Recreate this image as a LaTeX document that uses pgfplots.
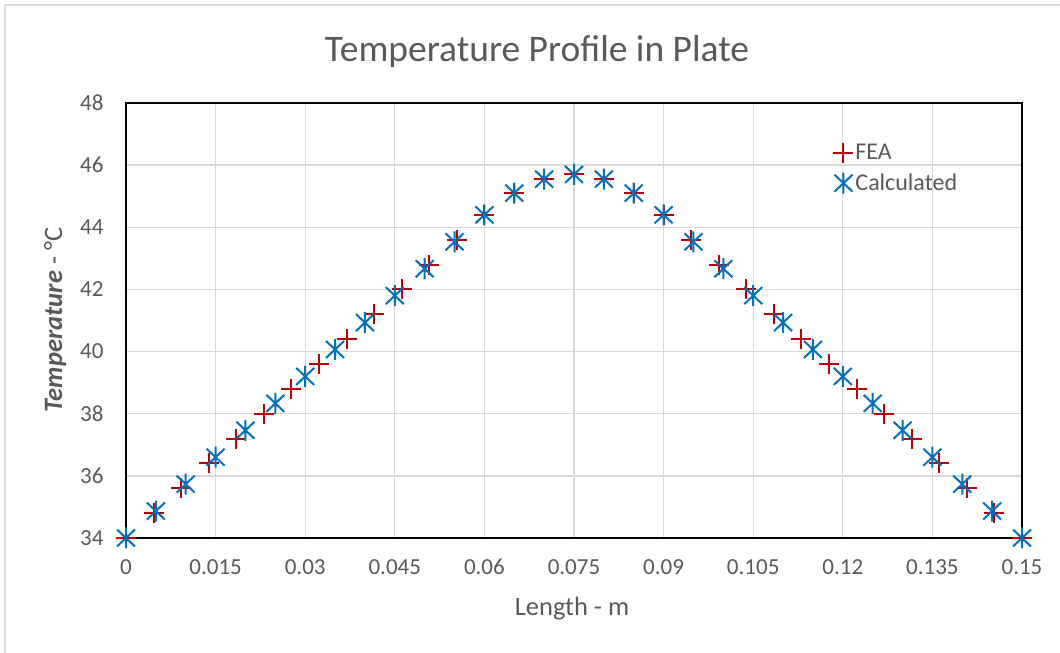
\documentclass[border=0pt]{standalone}
\usepackage{pgfplots}
\pgfplotsset{compat=1.18}
\usepackage{fontspec}
\setmainfont{Carlito}
\definecolor{txt}{HTML}{595959}
\definecolor{gridc}{HTML}{D9D9D9}
\definecolor{fear}{HTML}{C00000}
\definecolor{calb}{HTML}{0070C0}
\pgfdeclareplotmark{xstar}{%
  \pgfpathmoveto{\pgfqpoint{-0.9\pgfplotmarksize}{-0.85\pgfplotmarksize}}%
  \pgfpathlineto{\pgfqpoint{0.9\pgfplotmarksize}{0.85\pgfplotmarksize}}%
  \pgfpathmoveto{\pgfqpoint{-0.9\pgfplotmarksize}{0.85\pgfplotmarksize}}%
  \pgfpathlineto{\pgfqpoint{0.9\pgfplotmarksize}{-0.85\pgfplotmarksize}}%
  \pgfpathmoveto{\pgfqpoint{0pt}{-1.05\pgfplotmarksize}}%
  \pgfpathlineto{\pgfqpoint{0pt}{1.05\pgfplotmarksize}}%
  \pgfusepathqstroke}
\begin{document}
\begin{tikzpicture}
\useasboundingbox (0pt,0pt) rectangle (1060pt,653pt);
\draw[gridc, line width=2pt] (5pt,0pt) -- (5pt,648pt) -- (1060pt,648pt);
\node[anchor=base, text=txt, font=\fontsize{37.5}{44}\selectfont] at (537pt,591pt) {Temperature Profile in Plate};
\node[anchor=base, text=txt, font=\fontsize{26.5}{30}\selectfont] at (572pt,37pt) {Length - m};
\node[anchor=base, rotate=90, text=txt, font=\fontsize{26.5}{30}\selectfont] at (62pt,333pt) {\textbf{\textit{Temperature}} - °C};
\begin{axis}[
  at={(126pt,115pt)}, anchor=south west,
  scale only axis, width=896pt, height=435pt,
  xmin=0, xmax=0.15, ymin=34, ymax=48,
  xtick={0,0.015,0.03,0.045,0.06,0.075,0.09,0.105,0.12,0.135,0.15},
  xticklabels={0,0.015,0.03,0.045,0.06,0.075,0.09,0.105,0.12,0.135,0.15},
  ytick={34,36,...,48},
  /pgf/number format/assume math mode=true,
  tick label style={text=txt, font=\fontsize{23}{27}\selectfont},
  xticklabel style={anchor=base, yshift=-37pt},
  yticklabel style={xshift=-19pt},
  major tick length=0pt,
  grid=major,
  major grid style={gridc, line width=1.3pt},
  axis line style={black, line width=1.8pt},
  legend style={at={(0.786,0.915)}, anchor=north west, draw=none, fill=none,
    font=\fontsize{24}{28}\selectfont, text=txt, row sep=9pt,
    /tikz/every even column/.append style={column sep=4pt}},
  legend cell align=left,
]
\addplot[only marks, mark=+, mark size=10pt, color=fear, line width=2pt] coordinates {
(0,34) (0.004615,34.8) (0.009231,35.6) (0.013846,36.4) (0.018462,37.2) (0.023077,38.0)
(0.027692,38.8) (0.032308,39.6) (0.036923,40.4) (0.041538,41.2) (0.046154,42.0)
(0.050769,42.8) (0.055385,43.6) (0.06,44.4) (0.065,45.1) (0.07,45.55) (0.075,45.7)
(0.08,45.55) (0.085,45.1) (0.09,44.4) (0.094615,43.6) (0.099231,42.8) (0.103846,42.0)
(0.108462,41.2) (0.113077,40.4) (0.117692,39.6) (0.122308,38.8) (0.126923,38.0)
(0.131538,37.2) (0.136154,36.4) (0.140769,35.6) (0.145385,34.8) (0.15,34)
};
\addlegendentry{FEA}
\addplot[only marks, mark=xstar, mark size=10pt, color=calb, line width=2pt] coordinates {
(0,34) (0.005,34.867) (0.01,35.733) (0.015,36.6) (0.02,37.467) (0.025,38.333)
(0.03,39.2) (0.035,40.067) (0.04,40.933) (0.045,41.8) (0.05,42.667) (0.055,43.533)
(0.06,44.4) (0.065,45.1) (0.07,45.55) (0.075,45.7) (0.08,45.55) (0.085,45.1)
(0.09,44.4) (0.095,43.533) (0.1,42.667) (0.105,41.8) (0.11,40.933) (0.115,40.067)
(0.12,39.2) (0.125,38.333) (0.13,37.467) (0.135,36.6) (0.14,35.733) (0.145,34.867)
(0.15,34)
};
\addlegendentry{Calculated}
\end{axis}
\end{tikzpicture}
\end{document}
